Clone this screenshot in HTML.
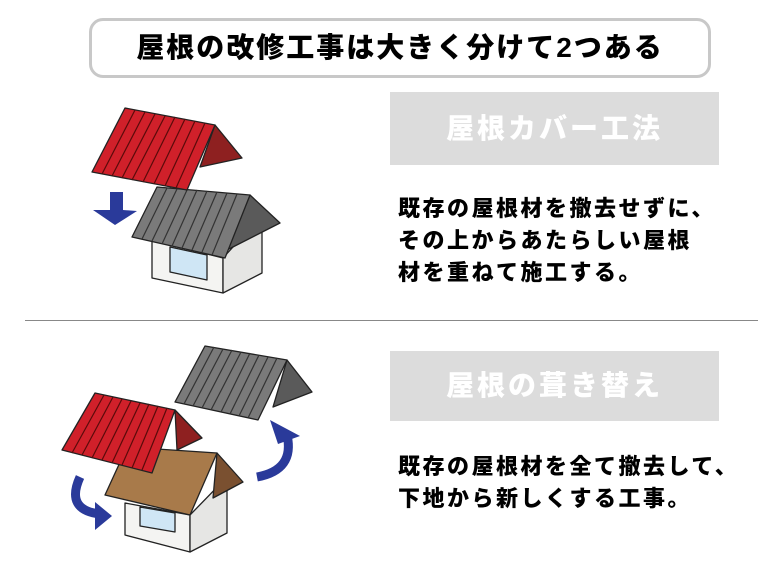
<!DOCTYPE html>
<html><head><meta charset="utf-8"><style>
html,body{margin:0;padding:0;background:#fff;}
body{width:768px;height:576px;position:relative;overflow:hidden;font-family:"Liberation Sans","Noto Sans CJK JP",sans-serif;}
.title{position:absolute;left:89px;top:18px;width:616px;height:54px;border:3px solid #c8c8c8;border-radius:14px;text-align:center;line-height:54px;font-size:28px;font-weight:900;letter-spacing:2px;color:#000;}
.gbox{position:absolute;left:390px;width:329px;background:#dcdcdc;color:#fff;font-weight:900;font-size:28px;text-align:center;letter-spacing:3px;}
.body{position:absolute;left:398px;font-size:22px;font-weight:900;line-height:32px;color:#000;white-space:nowrap;letter-spacing:2.5px;}
.sep{position:absolute;left:25px;top:320px;width:733px;height:1px;background:#888;}
svg{position:absolute;left:0;top:0;}
</style></head><body>
<div class="title">屋根の改修工事は大きく分けて2つある</div>
<div class="gbox" style="top:92px;height:73px;line-height:73px;">屋根カバー工法</div>
<div class="body" style="top:193px;">既存の屋根材を撤去せずに、<br>その上からあたらしい屋根<br>材を重ねて施工する。</div>
<div class="sep"></div>
<div class="gbox" style="top:351px;height:70px;line-height:70px;">屋根の葺き替え</div>
<div class="body" style="top:451px;">既存の屋根材を全て撤去して、<br>下地から新しくする工事。</div>
<svg width="768" height="576" viewBox="0 0 768 576">
<g stroke="#222" stroke-width="1.3" stroke-linejoin="round">
<polygon points="152,240 223,258 223,293 152,278" fill="#f4f4f2"/>
<polygon points="223,258 262,215 262,273 223,293" fill="#e6e6e4"/>
<polygon points="170,247 207,255 207,280 170,272" fill="#cfe6f5"/>
<polygon points="250,195 280,223 227,250" fill="#5a5a5a"/>
<polygon points="157,187 250,195 225,258 132,237" fill="#7a7a7a"/>
<g stroke="#333" stroke-width="1.2">
<line x1="167" y1="188" x2="142" y2="239"/><line x1="177" y1="189" x2="152" y2="241"/><line x1="187" y1="190" x2="162" y2="244"/><line x1="197" y1="190" x2="172" y2="246"/><line x1="207" y1="191" x2="182" y2="248"/><line x1="217" y1="192" x2="192" y2="250"/><line x1="227" y1="193" x2="202" y2="252"/><line x1="237" y1="194" x2="212" y2="255"/>
</g>
<polygon points="215,125 242,158 200,167" fill="#8e2020"/>
<polygon points="125,108 215,125 187,190 92,172" fill="#d0202a"/>
<g stroke="#5a0a0a" stroke-width="1.2">
<line x1="135" y1="110" x2="102" y2="174"/><line x1="145" y1="112" x2="112" y2="176"/><line x1="155" y1="114" x2="122" y2="178"/><line x1="165" y1="116" x2="132" y2="180"/><line x1="175" y1="117" x2="143" y2="182"/><line x1="185" y1="119" x2="154" y2="184"/><line x1="195" y1="121" x2="165" y2="186"/><line x1="205" y1="123" x2="176" y2="188"/>
</g>
</g>
<polygon points="110,192 123,192 123,210 137,211 115,225 93,210 110,210" fill="#2a3a9a"/>
<g stroke="#222" stroke-width="1.3" stroke-linejoin="round">
<polygon points="287,360 312,392 273,407" fill="#5a5a5a"/>
<polygon points="205,346 287,360 258,420 175,402" fill="#7a7a7a"/>
<g stroke="#333" stroke-width="1.2">
<line x1="214" y1="347" x2="184" y2="404"/><line x1="223" y1="349" x2="193" y2="406"/><line x1="232" y1="350" x2="202" y2="408"/><line x1="241" y1="352" x2="211" y2="410"/><line x1="250" y1="353" x2="221" y2="412"/><line x1="259" y1="355" x2="230" y2="414"/><line x1="268" y1="357" x2="239" y2="416"/><line x1="277" y1="358" x2="248" y2="418"/>
</g>
<polygon points="125,503 190,515 190,552 125,535" fill="#f4f4f2"/>
<polygon points="190,515 227,477 227,533 190,552" fill="#e6e6e4"/>
<polygon points="140,507 175,513 175,532 140,526" fill="#cfe6f5"/>
<polygon points="217,453 243,482 213,498" fill="#7a5030"/>
<polygon points="127,447 217,453 190,515 105,495" fill="#a87a4a"/>
<polygon points="175,410 202,438 177,450" fill="#8e2020"/>
<polygon points="95,393 175,410 152,473 62,450" fill="#d0202a"/>
<g stroke="#5a0a0a" stroke-width="1.2">
<line x1="104" y1="395" x2="72" y2="453"/><line x1="113" y1="397" x2="82" y2="455"/><line x1="122" y1="399" x2="92" y2="458"/><line x1="131" y1="401" x2="102" y2="460"/><line x1="140" y1="403" x2="112" y2="463"/><line x1="149" y1="404" x2="122" y2="465"/><line x1="158" y1="406" x2="132" y2="468"/><line x1="167" y1="408" x2="142" y2="470"/>
</g>
</g>
<path d="M257,477 Q295,470 287,435" stroke="#2a3a9a" stroke-width="9" fill="none"/>
<polygon points="270,420 300,436 278,444" fill="#2a3a9a"/>
<path d="M80,477 Q65,510 100,514" stroke="#2a3a9a" stroke-width="9" fill="none"/>
<polygon points="95,502 112,516 95,530" fill="#2a3a9a"/>
</svg>
</body></html>
